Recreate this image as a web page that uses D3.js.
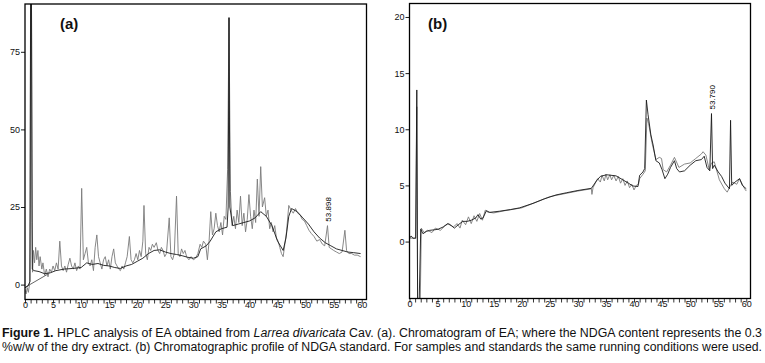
<!DOCTYPE html>
<html><head><meta charset="utf-8">
<script src="https://cdn.jsdelivr.net/npm/d3@7"></script>
<style>
html,body{margin:0;padding:0;background:#fff;}
svg{display:block;}
</style></head>
<body>
<svg id="c" width="765" height="363"></svg>
<script>
// ---------- DATA ----------
// Panel (a): time (min) / response
const xTicksA = [0,5,10,15,20,25,30,35,40,45,50,55,60];
const yTicksA = [0,25,50,75];
const grayA = [[0,-1.5],[0.2,-3],[0.4,-1],[0.6,-2.5],[0.8,0],[0.9,25],[1.0,95],[1.15,95],[1.25,20],[1.35,4],[1.5,11],[1.7,7],[1.9,12],[2.1,8],[2.3,11],[2.5,6],[2.7,9],[3.0,5],[3.2,7],[3.5,3],[3.8,5],[4.1,2.5],[4.4,5],[4.7,4],[5.0,6],[5.3,4.5],[5.6,7],[5.9,5],[6.2,14],[6.5,6],[6.8,4.5],[7.1,6],[7.4,4],[7.7,6.5],[8.0,8.5],[8.3,6],[8.6,5],[8.9,7],[9.2,4.5],[9.5,6],[9.8,5],[10.1,31],[10.4,8],[10.7,10],[11.0,12],[11.3,7],[11.6,6],[11.9,8],[12.2,4.5],[12.5,12],[12.8,16],[13.1,9],[13.4,7],[13.7,5],[14.0,8],[14.3,9],[14.6,6],[14.9,8],[15.2,5],[15.5,9],[15.8,11.5],[16.1,7],[16.4,6],[16.7,5],[17.0,4.5],[17.3,6],[17.6,5],[17.9,7],[18.2,9],[18.6,15.5],[18.9,8],[19.2,7],[19.5,8],[19.8,10],[20.1,8],[20.4,11],[20.7,9],[21.0,14],[21.2,25.5],[21.5,10],[21.8,8],[22.1,12],[22.4,11],[22.7,13],[23.0,12],[23.4,13.5],[23.7,11],[24.0,10],[24.3,12],[24.6,11],[24.9,9],[25.2,10],[25.7,21.5],[26.0,9],[26.3,8],[26.6,10],[27.0,28.5],[27.3,10],[27.6,9],[27.9,11.5],[28.2,10],[28.5,11],[28.8,9],[29.2,8],[29.6,9],[30.0,8],[30.4,8.5],[30.8,10],[31.2,13],[31.5,12],[31.8,14],[32.2,13],[32.5,8],[32.8,14],[33.1,23.5],[33.4,16],[33.7,18],[34.0,23],[34.3,19],[34.6,17],[34.9,20],[35.2,16],[35.5,22],[35.8,21],[36.1,37],[36.35,86],[36.6,30],[36.9,19],[37.2,22],[37.5,18],[37.8,24],[38.1,20],[38.4,28.5],[38.7,19],[39.0,23],[39.3,17],[39.6,21],[39.9,29],[40.2,22],[40.5,18],[40.8,24],[41.1,20],[41.4,34],[41.7,22],[42.0,38],[42.3,25],[42.7,28],[43.0,22],[43.3,24],[43.6,18],[43.9,20],[44.2,17],[44.5,19],[44.8,15],[45.1,14],[45.4,12],[45.7,10],[46.0,9],[46.3,13],[46.6,17],[47.0,25.5],[47.4,24],[47.8,23],[48.2,24.5],[48.6,23],[49.0,22.5],[49.4,21],[49.8,20.5],[50.2,19],[50.6,17.5],[51.0,16.5],[51.5,15.5],[52.0,14],[52.5,14.5],[53.0,13],[53.4,12.5],[53.9,19],[54.2,12],[54.6,11.5],[55.0,11],[55.5,10.5],[56.0,10],[56.5,10.5],[57.0,17.5],[57.3,11],[57.7,10],[58.2,10],[58.7,9.5],[59.2,9.5],[59.8,9]];
const blackA = [[0,-1],[0.5,-0.5],[0.9,1],[1.0,95],[1.15,95],[1.3,5],[1.6,4.5],[2.5,4.2],[3.5,3.5],[4.5,3.8],[5.5,4.5],[7,5],[8.5,5.2],[10,5.5],[11,7],[12,6.5],[13,6.8],[14,6.2],[15,6],[16,5.5],[17,5.2],[18,6],[19,6.5],[20,7.5],[21,8.5],[22,10],[23,11],[24,11.2],[25,10.5],[26,10],[27,9.7],[28,9.3],[29,8.8],[30,8.5],[30.8,9],[31.3,11.5],[32.3,12.5],[33,14],[34,17],[35,18],[36,18.5],[36.2,25],[36.35,86],[36.5,25],[37,19],[38,19.5],[39,20],[40,20.5],[41,21.5],[42,23.5],[43,22],[44,19],[45,14],[46,11],[46.5,15],[47,22],[47.5,24.5],[48.5,23.5],[49.5,21.5],[50.5,19.5],[51.5,17],[52.5,15],[53.5,13.5],[54.5,12.5],[55.5,11.5],[56.5,11],[57.5,10.5],[58.5,10.3],[59.8,10]];
const baseA = [[0.1,-0.8],[4,3.3]];
const peakLabelA = {t:53.9, v:19, text:"53.898"};

// Panel (b)
const xTicksB = [0,5,10,15,20,25,30,35,40,45,50,55,60];
const yTicksB = [0,5,10,15,20];
const blackB = [[0,0.3],[0.3,0.5],[0.6,0.3],[1.1,0.3],[1.3,13.5],[1.45,-6],[1.7,-6],[2.0,1.1],[2.4,0.7],[3,0.9],[3.6,1.0],[4.5,1.05],[5.1,1.1],[6,1.3],[6.8,1.6],[7.5,1.4],[8,1.2],[8.7,1.5],[9.5,1.8],[10.3,1.8],[11,1.9],[11.8,2.1],[12.2,2.4],[12.7,2.0],[13.1,2.1],[13.7,2.75],[14.3,2.6],[16,2.7],[18,2.85],[19.6,3.0],[22,3.4],[24,3.8],[26.1,4.15],[28,4.35],[30,4.55],[32.4,4.74],[33.3,5.4],[34,5.8],[35.1,5.95],[36.8,5.85],[38,5.5],[39,5.2],[39.8,4.95],[40.7,4.9],[41,5.9],[41.6,6.2],[41.9,6.5],[42.2,12.6],[42.5,11.3],[43.0,9.5],[43.4,8.6],[43.9,7.2],[44.5,7.0],[45,6.4],[45.5,5.6],[46,6.0],[46.5,6.6],[47.2,7.2],[47.6,6.5],[48.1,6.2],[49,6.3],[50,6.8],[51,7.2],[52,7.3],[52.5,7.6],[53,6.6],[53.5,6.3],[53.8,11.4],[54.0,6.5],[54.3,6.8],[55,6.2],[55.6,5.8],[56.2,5.2],[57.0,4.7],[57.2,10.8],[57.4,5.0],[58,5.3],[58.8,5.6],[59.3,5.0],[60,4.7]];
const grayB = [[0,0.3],[1.1,0.3],[1.3,12],[1.45,-6],[1.9,-6],[2.1,1.2],[2.6,0.8],[3.2,1.0],[4,0.8],[4.6,1.2],[5.5,1.0],[6.3,1.4],[7,1.6],[7.8,1.3],[8.5,1.6],[9,1.2],[9.4,1.9],[10,1.5],[10.5,2.2],[11,1.6],[11.5,2.3],[12,1.8],[12.5,2.5],[13,1.9],[13.5,2.8],[14,2.6],[14.3,2.6],[15,2.55],[17,2.75],[20,3.0],[25,4.0],[30,4.5],[32.4,4.7],[32.5,4.2],[32.7,4.8],[33.5,5.6],[34,5.3],[34.3,5.9],[34.7,5.4],[35,6.0],[35.3,5.5],[35.7,5.95],[36,5.5],[36.4,5.9],[36.8,5.4],[37.2,5.8],[37.6,5.2],[38,5.6],[38.4,5.0],[38.8,5.4],[39.2,4.8],[39.6,5.1],[40,4.6],[40.4,5.0],[40.8,5.1],[41,5.6],[41.6,6.0],[42.0,6.3],[42.3,11.0],[42.6,10.5],[43.2,8.8],[43.9,7.3],[44.5,7.5],[44.9,7.4],[45.2,6.4],[45.8,6.2],[46.5,6.8],[47.2,7.5],[48,6.6],[49,6.9],[50,7.0],[51,7.4],[52,7.8],[52.3,8.0],[52.8,7.7],[53.4,6.4],[53.8,7.0],[54.3,7.1],[55.2,5.5],[56.1,4.7],[56.6,4.4],[57.2,5.0],[57.6,5.3],[58.3,5.1],[58.8,5.6],[59.7,4.7],[60,4.5]];
const peakLabelB = {t:53.8, v:11.4, text:"53.790"};

const captionLine1 = ["Figure 1.", " HPLC analysis of EA obtained from ", "Larrea divaricata", " Cav. (a). Chromatogram of EA; where the NDGA content represents the 0.3"];
const captionLine2 = "%w/w of the dry extract. (b) Chromatographic profile of NDGA standard. For samples and standards the same running conditions were used.";

// ---------- DRAW ----------
const svg = d3.select("#c");
const tickFont = "'Liberation Sans Narrow','Arial Narrow','Liberation Sans',Arial,sans-serif";

function panel(cfg){
  const {id, left, right, top, bottom, xDomain, yDomain, xTicks, yTicks, traces, label, lx, ly, peak} = cfg;
  const x = d3.scaleLinear().domain(xDomain).range([left, right]);
  const y = d3.scaleLinear().domain(yDomain).range([bottom, top]);
  const g = svg.append("g");
  g.append("clipPath").attr("id","clip"+id).append("rect")
    .attr("x",left).attr("y",top).attr("width",right-left).attr("height",bottom-top);
  const plot = g.append("g").attr("clip-path","url(#clip"+id+")");
  const line = d3.line().x(d=>x(d[0])).y(d=>y(d[1]));
  traces.forEach(tr=>{
    plot.append("path").attr("d",line(tr.data)).attr("fill","none")
      .attr("stroke",tr.color).attr("stroke-width",tr.w).attr("stroke-linejoin","round");
  });
  // frame
  g.append("rect").attr("x",left).attr("y",top).attr("width",right-left).attr("height",bottom-top)
    .attr("fill","none").attr("stroke","#000").attr("stroke-width",1.3);
  // x axis
  const xa = d3.axisBottom(x).tickValues(d3.range(0,61,1)).tickSize(4)
    .tickFormat(d=> xTicks.includes(d) ? d : "");
  const gx = g.append("g").attr("transform",`translate(0,${bottom})`).call(xa);
  gx.select(".domain").remove();
  gx.selectAll("line").attr("stroke","#000").attr("stroke-width",0.8);
  gx.selectAll("text").attr("font-family",tickFont).attr("font-size",9).attr("fill","#111").attr("dy","0.55em").attr("y",4);
  // y axis
  const ya = d3.axisLeft(y).tickValues(yTicks).tickSize(4).tickFormat(d=>d);
  const gy = g.append("g").attr("transform",`translate(${left},0)`).call(ya);
  gy.select(".domain").remove();
  gy.selectAll("line").attr("stroke","#000").attr("stroke-width",0.9);
  gy.selectAll("text").attr("font-family",tickFont).attr("font-size",9).attr("fill","#111").attr("x",-5);
  // panel label
  g.append("text").attr("x",lx).attr("y",ly).text(label)
    .attr("font-family","'Liberation Sans',Arial,sans-serif").attr("font-weight","bold").attr("font-size",15).attr("fill","#111");
  // peak label
  const px = x(peak.t)+1, py = y(peak.v)-4;
  g.append("text").attr("transform",`translate(${px+3},${py}) rotate(-90)`).text(peak.text)
    .attr("font-family",tickFont).attr("font-size",8).attr("fill","#000");
}

panel({id:"a", left:25, right:366.5, top:4, bottom:299.5,
  xDomain:[0,60.85], yDomain:[-4.8,90.4], xTicks:xTicksA, yTicks:yTicksA,
  traces:[{data:grayA,color:"#7a7a7a",w:0.9},{data:baseA,color:"#555",w:0.9},{data:blackA,color:"#1a1a1a",w:0.9}],
  label:"(a)", lx:60, ly:29, peak:peakLabelA});

panel({id:"b", left:409.5, right:750.5, top:3.5, bottom:298.5,
  xDomain:[0,60.75], yDomain:[-5.07,21.2], xTicks:xTicksB, yTicks:yTicksB,
  traces:[{data:grayB,color:"#7a7a7a",w:0.9},{data:blackB,color:"#1a1a1a",w:0.9}],
  label:"(b)", lx:428, ly:29, peak:peakLabelB});

// caption
const capFont = "'Liberation Sans',Arial,sans-serif";
const t1 = svg.append("text").attr("x",2).attr("y",337).attr("font-family",capFont).attr("font-size",12)
  .attr("fill","#111").attr("textLength",760).attr("lengthAdjust","spacingAndGlyphs");
captionLine1.forEach((s,i)=>{
  const ts = t1.append("tspan").text(s);
  if(i===0) ts.attr("font-weight","bold");
  if(i===2) ts.attr("font-style","italic");
});
svg.append("text").attr("x",2).attr("y",351).attr("font-family",capFont).attr("font-size",12)
  .attr("fill","#111").attr("textLength",760).attr("lengthAdjust","spacingAndGlyphs").text(captionLine2);
</script>
</body></html>
